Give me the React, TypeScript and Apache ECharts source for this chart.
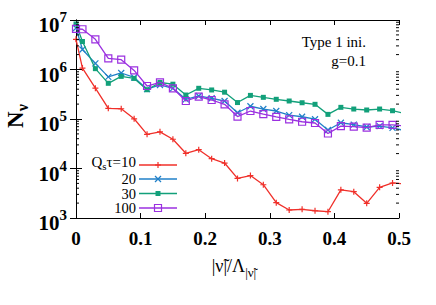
import React, { useEffect, useRef } from "react";
import * as echarts from "echarts";

const xValues = [0, 0.01, 0.03, 0.05, 0.07, 0.09, 0.11, 0.13, 0.15, 0.17, 0.19, 0.21, 0.23, 0.25, 0.27, 0.29, 0.31, 0.33, 0.35, 0.37, 0.39, 0.41, 0.43, 0.45, 0.47, 0.49, 0.51];
const tau10 = [4.07e6, 1.07e6, 4.2e5, 1.64e5, 1.61e5, 1.01e5, 4.9e4, 5.5e4, 3.9e4, 2.03e4, 2.4e4, 1.58e4, 1.29e4, 6.3e3, 7.2e3, 4.7e3, 2.04e3, 1.45e3, 1.5e3, 1.4e3, 1.34e3, 3.7e3, 3.4e3, 1.98e3, 4.17e3, 5.1e3, 4.9e3];
const tau20 = [6.9e6, 2.53e6, 1.33e6, 7.1e5, 8.5e5, 6.9e5, 4.0e5, 4.87e5, 4.17e5, 2.5e5, 2.92e5, 2.62e5, 2.31e5, 1.34e5, 1.81e5, 1.59e5, 1.45e5, 1.2e5, 1.11e5, 9.9e4, 6.0e4, 8.4e4, 7.7e4, 6.9e4, 7.2e4, 6.6e4, 5.8e4];
const tau30 = [8.3e6, 3.68e6, 1.04e6, 5.26e5, 7.26e5, 6.6e5, 3.9e5, 5.46e5, 5.05e5, 3.05e5, 4.17e5, 3.86e5, 3.48e5, 2.15e5, 3.0e5, 2.74e5, 2.5e5, 2.31e5, 2.13e5, 1.98e5, 1.24e5, 1.72e5, 1.59e5, 1.52e5, 1.59e5, 1.47e5, 1.29e5];
const tau100 = [6.6e6, 6.5e6, 4.07e6, 1.68e6, 1.58e6, 9.6e5, 4.64e5, 5.5e5, 4.17e5, 2.31e5, 2.82e5, 2.42e5, 1.98e5, 1.12e5, 1.45e5, 1.25e5, 1.1e5, 9.8e4, 8.8e4, 8.3e4, 5.1e4, 7.2e4, 7.0e4, 6.7e4, 7.6e4, 7.6e4, 7.2e4];
const seriesLabels = ["10", "20", "30", "100"];
const xTicks = [0, 0.1, 0.2, 0.3, 0.4, 0.5];
const minorTicks = [
  2e3, 3e3, 4e3, 5e3, 6e3, 7e3, 8e3, 9e3,
  2e4, 3e4, 4e4, 5e4, 6e4, 7e4, 8e4, 9e4,
  2e5, 3e5, 4e5, 5e5, 6e5, 7e5, 8e5, 9e5,
  2e6, 3e6, 4e6, 5e6, 6e6, 7e6, 8e6, 9e6,
];

const colors = ["#f0302a", "#2080c8", "#12a07a", "#9b30e0"];
const FONT = "Liberation Serif";

const GL = 76, GT = 20, GW = 323, GH = 198;

function markerGraphic(i: number, cx: number, cy: number) {
  const c = colors[i];
  if (i === 0) {
    return [
      { type: "line", shape: { x1: cx - 3, y1: cy, x2: cx + 3, y2: cy }, style: { stroke: c, lineWidth: 1.2 } },
      { type: "line", shape: { x1: cx, y1: cy - 3, x2: cx, y2: cy + 3 }, style: { stroke: c, lineWidth: 1.2 } },
    ];
  }
  if (i === 1) {
    return [
      { type: "line", shape: { x1: cx - 3, y1: cy - 3, x2: cx + 3, y2: cy + 3 }, style: { stroke: c, lineWidth: 1.2 } },
      { type: "line", shape: { x1: cx - 3, y1: cy + 3, x2: cx + 3, y2: cy - 3 }, style: { stroke: c, lineWidth: 1.2 } },
    ];
  }
  if (i === 2) {
    return [{ type: "rect", shape: { x: cx - 2.5, y: cy - 2.5, width: 5, height: 5 }, style: { fill: c } }];
  }
  return [{ type: "rect", shape: { x: cx - 3.5, y: cy - 3.5, width: 7, height: 7 }, style: { fill: "rgba(0,0,0,0)", stroke: c, lineWidth: 1.2 } }];
}

export default function App() {
  const ref = useRef<HTMLDivElement>(null);
  useEffect(() => {
    if (!ref.current) return;
    const chart = echarts.init(ref.current, null, { renderer: "svg" });
    const datasets = [tau10, tau20, tau30, tau100];
    const symbols: any[] = [
      { symbol: "path://M5,0 L5,10 M0,5 L10,5", size: 6, fill: "rgba(0,0,0,0)", border: true },
      { symbol: "path://M0,0 L10,10 M10,0 L0,10", size: 6, fill: "rgba(0,0,0,0)", border: true },
      { symbol: "rect", size: 5, fill: null, border: false },
      { symbol: "rect", size: 7, fill: "rgba(0,0,0,0)", border: true },
    ];
    const lineSeries = datasets.map((d, i) => ({
      type: "line",
      name: "Qsτ=" + seriesLabels[i],
      data: d.map((v, j) => [xValues[j], v]),
      symbol: symbols[i].symbol,
      symbolSize: symbols[i].size,
      showAllSymbol: true,
      clip: true,
      lineStyle: { color: colors[i], width: 1.3 },
      itemStyle: symbols[i].border
        ? { color: symbols[i].fill, borderColor: colors[i], borderWidth: 1.2 }
        : { color: colors[i], borderWidth: 0 },
      emphasis: { disabled: true },
      z: 3 + i,
    }));

    const legendGraphics: any[] = [];
    const rowY = [165, 179, 193.5, 208];
    seriesLabels.forEach((lab, i) => {
      legendGraphics.push({
        type: "text",
        x: 136,
        y: rowY[i],
        style: i === 0
          ? {
              text: "{a|Q}{s|s}{a|τ=" + lab + "}",
              align: "right",
              verticalAlign: "middle",
              rich: {
                a: { fontFamily: FONT, fontSize: 15, fill: "#000", verticalAlign: "bottom", padding: [0, 0, 2, 0], lineHeight: 13 },
                s: { fontFamily: FONT, fontSize: 11, fill: "#000", verticalAlign: "bottom", lineHeight: 11 },
              },
            }
          : {
              text: lab,
              align: "right",
              verticalAlign: "middle",
              fontFamily: FONT,
              fontSize: 14.5,
              lineHeight: 13,
              fill: "#000",
            },
      });
      legendGraphics.push({
        type: "line",
        shape: { x1: 139, y1: rowY[i], x2: 177, y2: rowY[i] },
        style: { stroke: colors[i], lineWidth: 1.3 },
      });
      markerGraphic(i, 158, rowY[i]).forEach((g) => legendGraphics.push(g));
    });

    const option: any = {
      animation: false,
      backgroundColor: "#fff",
      grid: { left: GL, top: GT, width: GW, height: GH, containLabel: false },
      xAxis: [
        {
          type: "value",
          min: 0,
          max: 0.5,
          interval: 0.1,
          position: "bottom",
          axisLine: { show: true, lineStyle: { color: "#000", width: 1 } },
          axisTick: { show: true, inside: true, length: 5, lineStyle: { color: "#000" } },
          splitLine: { show: false },
          axisLabel: {
            margin: 11,
            fontFamily: FONT,
            fontWeight: "bold",
            fontSize: 19,
            color: "#000",
            formatter: (v: number) => (xTicks.indexOf(v) === 0 ? "0" : v.toFixed(1)),
          },
        },
        {
          type: "value",
          min: 0,
          max: 0.5,
          interval: 0.1,
          position: "top",
          axisLine: { show: true, lineStyle: { color: "#000", width: 1 } },
          axisTick: { show: true, inside: true, length: 5, lineStyle: { color: "#000" } },
          splitLine: { show: false },
          axisLabel: { show: false },
        },
      ],
      yAxis: [
        {
          type: "log",
          logBase: 10,
          min: 1e3,
          max: 1e7,
          position: "left",
          axisLine: { show: true, lineStyle: { color: "#000", width: 1 } },
          axisTick: { show: true, inside: true, length: 6, lineStyle: { color: "#000" } },
          splitLine: { show: false },
          axisLabel: {
            margin: 9,
            formatter: (v: number) => "{a|10}{b|" + Math.round(Math.log10(v)) + "}",
            rich: {
              a: { fontFamily: FONT, fontWeight: "bold", fontSize: 21, color: "#000", verticalAlign: "bottom", padding: [10, 0, 0, 0] },
              b: { fontFamily: FONT, fontWeight: "bold", fontSize: 15, color: "#000", verticalAlign: "bottom", padding: [0, 0, 11, 0] },
            },
          },
        },
        {
          type: "log",
          logBase: 10,
          min: 1e3,
          max: 1e7,
          position: "right",
          axisLine: { show: true, lineStyle: { color: "#000", width: 1 } },
          axisTick: { show: true, inside: true, length: 6, lineStyle: { color: "#000" } },
          splitLine: { show: false },
          axisLabel: { show: false },
        },
      ],
      series: [
        ...lineSeries,
        {
          type: "custom",
          silent: true,
          clip: false,
          z: 10,
          data: minorTicks.map((v) => [0, v]),
          renderItem: (params: any, api: any) => {
            const v = api.value(1);
            const l = api.coord([0, v]);
            const r = api.coord([0.5, v]);
            return {
              type: "group",
              children: [
                { type: "line", shape: { x1: l[0], y1: l[1], x2: l[0] + 3, y2: l[1] }, style: { stroke: "#000", lineWidth: 1 } },
                { type: "line", shape: { x1: r[0] - 3, y1: r[1], x2: r[0], y2: r[1] }, style: { stroke: "#000", lineWidth: 1 } },
              ],
            };
          },
        },
      ],
      graphic: [
        {
          type: "text",
          x: 17,
          y: 116,
          rotation: Math.PI / 2,
          style: {
            text: "{a|N}{s|ν}",
            align: "center",
            verticalAlign: "middle",
            rich: {
              a: { fontFamily: FONT, fontWeight: "bold", fontSize: 23, fill: "#000", verticalAlign: "bottom", padding: [0, 0, 4, 0] },
              s: { fontFamily: FONT, fontWeight: "bold", fontSize: 16, fill: "#000", verticalAlign: "bottom" },
            },
          },
        },
        {
          type: "text",
          x: 234,
          y: 268,
          style: {
            text: "{a||ν̃|/Λ}{s||ν̃|}",
            align: "center",
            verticalAlign: "middle",
            rich: {
              a: { fontFamily: FONT, fontSize: 18, fill: "#000", verticalAlign: "bottom", padding: [0, 0, 4, 0] },
              s: { fontFamily: FONT, fontSize: 13, fill: "#000", verticalAlign: "bottom" },
            },
          },
        },
        {
          type: "text",
          x: 366,
          y: 42,
          style: { text: "Type 1 ini.", align: "right", verticalAlign: "middle", fontFamily: FONT, fontSize: 15, fill: "#000" },
        },
        {
          type: "text",
          x: 366,
          y: 61,
          style: { text: "g=0.1", align: "right", verticalAlign: "middle", fontFamily: FONT, fontSize: 15, fill: "#000" },
        },
        ...legendGraphics,
      ],
    };
    chart.setOption(option);
    return () => chart.dispose();
  }, []);
  return <div ref={ref} style={{ position: "fixed", left: 0, top: 0, width: 436, height: 305 }} />;
}
